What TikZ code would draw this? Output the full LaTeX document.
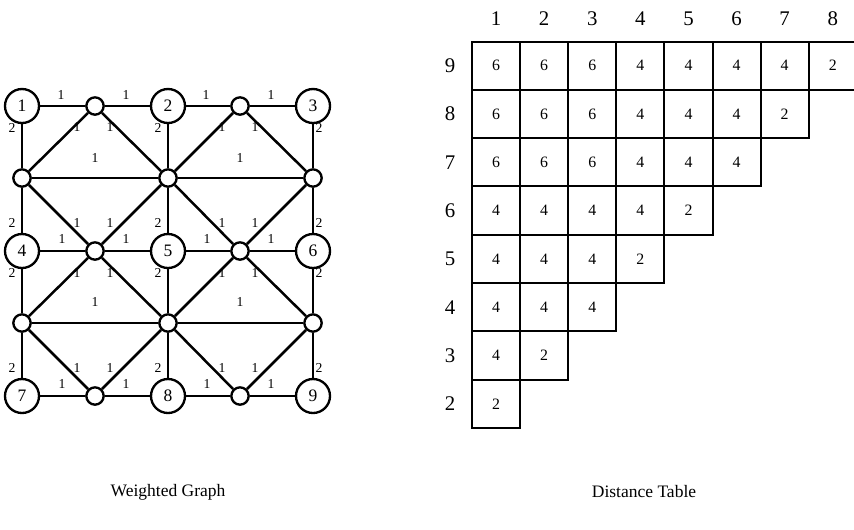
\documentclass[tikz,border=0pt]{standalone}
\usepackage{fontspec}
\setmainfont{Liberation Serif}

\begin{document}
\begin{tikzpicture}[x=0.6pt,y=-0.6pt,
  every node/.style={font=\fontsize{10.5}{12}\selectfont},
  big/.style={circle,draw,line width=1.4pt,minimum size=20.4pt,inner sep=0pt,font=\fontsize{10.5}{12}\selectfont},
  sml/.style={circle,draw,line width=1.4pt,minimum size=10.4pt,inner sep=0pt},
  wt/.style={inner sep=0pt,font=\fontsize{8.2}{9}\selectfont},
  cell/.style={draw,line width=1.2pt,minimum width=28.86pt,minimum height=28.98pt,inner sep=0pt,font=\fontsize{9.5}{10}\selectfont},
  idx/.style={inner sep=0pt,font=\fontsize{12.5}{14}\selectfont}]
\useasboundingbox (0,0) rectangle (854,529);
\clip (0,0) rectangle (854,529);

% weighted graph: numbered vertices
\node[big] (n1) at (22,106) {1}; \node[big] (n2) at (168,106) {2}; \node[big] (n3) at (313,106) {3};
\node[big] (n4) at (22,251) {4}; \node[big] (n5) at (168,251) {5}; \node[big] (n6) at (313,251) {6};
\node[big] (n7) at (22,396) {7}; \node[big] (n8) at (168,396) {8}; \node[big] (n9) at (313,396) {9};
% unnumbered vertices
\node[sml] (t1) at (95,106) {}; \node[sml] (t2) at (240,106) {};
\node[sml] (m1) at (95,251) {}; \node[sml] (m2) at (240,251) {};
\node[sml] (b1) at (95,396) {}; \node[sml] (b2) at (240,396) {};
\node[sml] (p1) at (22,178) {}; \node[sml] (p2) at (168,178) {}; \node[sml] (p3) at (313,178) {};
\node[sml] (q1) at (22,323) {}; \node[sml] (q2) at (168,323) {}; \node[sml] (q3) at (313,323) {};

\begin{scope}[line width=1.5pt]
% horizontal edges
\draw (n1)--(t1) (t1)--(n2) (n2)--(t2) (t2)--(n3);
\draw (n4)--(m1) (m1)--(n5) (n5)--(m2) (m2)--(n6);
\draw (n7)--(b1) (b1)--(n8) (n8)--(b2) (b2)--(n9);
\draw (p1)--(p2) (p2)--(p3);
\draw (q1)--(q2) (q2)--(q3);
% vertical edges
\draw (n1)--(p1) (p1)--(n4) (n4)--(q1) (q1)--(n7);
\draw (n2)--(p2) (p2)--(n5) (n5)--(q2) (q2)--(n8);
\draw (n3)--(p3) (p3)--(n6) (n6)--(q3) (q3)--(n9);
% diagonal edges
\draw (t1)--(p1) (t1)--(p2) (t2)--(p2) (t2)--(p3);
\draw (m1)--(p1) (m1)--(p2) (m1)--(q1) (m1)--(q2);
\draw (m2)--(p2) (m2)--(p3) (m2)--(q2) (m2)--(q3);
\draw (b1)--(q1) (b1)--(q2) (b2)--(q2) (b2)--(q3);
\end{scope}

% weights
\node[wt] (h11) at (61,95) {1}; \node[wt] (h12) at (126,95) {1}; \node[wt] (h13) at (206,95) {1}; \node[wt] (h14) at (271,95) {1};
\node[wt] (h31) at (62,239) {1}; \node[wt] (h32) at (126,239) {1}; \node[wt] (h33) at (207,239) {1}; \node[wt] (h34) at (271,239) {1};
\node[wt] (h51) at (62,384) {1}; \node[wt] (h52) at (126,384) {1}; \node[wt] (h53) at (207,384) {1}; \node[wt] (h54) at (271,384) {1};
\node[wt] (h21) at (95,158) {1}; \node[wt] (h22) at (240,158) {1}; \node[wt] (h41) at (95,302) {1}; \node[wt] (h42) at (240,302) {1};
\node[wt] (d11) at (77,127) {1}; \node[wt] (d12) at (110,127) {1}; \node[wt] (d13) at (222,127) {1}; \node[wt] (d14) at (255,127) {1};
\node[wt] (d21) at (77,223) {1}; \node[wt] (d22) at (110,223) {1}; \node[wt] (d23) at (222,223) {1}; \node[wt] (d24) at (255,223) {1};
\node[wt] (d31) at (77,273) {1}; \node[wt] (d32) at (110,273) {1}; \node[wt] (d33) at (222,273) {1}; \node[wt] (d34) at (255,273) {1};
\node[wt] (d41) at (77,368) {1}; \node[wt] (d42) at (110,368) {1}; \node[wt] (d43) at (222,368) {1}; \node[wt] (d44) at (255,368) {1};
\node[wt] (v11) at (12,128) {2}; \node[wt] (v12) at (12,223) {2}; \node[wt] (v13) at (12,273) {2}; \node[wt] (v14) at (12,368) {2};
\node[wt] (v21) at (158,128) {2}; \node[wt] (v22) at (158,223) {2}; \node[wt] (v23) at (158,273) {2}; \node[wt] (v24) at (158,368) {2};
\node[wt] (v31) at (319,128) {2}; \node[wt] (v32) at (319,223) {2}; \node[wt] (v33) at (319,273) {2}; \node[wt] (v34) at (319,368) {2};

% distance table: indices
\node[idx] (k1) at (496.05,19) {1}; \node[idx] (k2) at (544.15,19) {2}; \node[idx] (k3) at (592.25,19) {3}; \node[idx] (k4) at (640.35,19) {4};
\node[idx] (k5) at (688.45,19) {5}; \node[idx] (k6) at (736.55,19) {6}; \node[idx] (k7) at (784.65,19) {7}; \node[idx] (k8) at (832.75,19) {8};
\node[idx] (r9) at (450,65.65) {9}; \node[idx] (r8) at (450,113.95) {8}; \node[idx] (r7) at (450,162.25) {7}; \node[idx] (r6) at (450,210.55) {6};
\node[idx] (r5) at (450,258.85) {5}; \node[idx] (r4) at (450,307.15) {4}; \node[idx] (r3) at (450,355.45) {3}; \node[idx] (r2) at (450,403.75) {2};
% distance table: cells
\node[cell] (c91) at (496.05,65.65) {6}; \node[cell] (c92) at (544.15,65.65) {6}; \node[cell] (c93) at (592.25,65.65) {6}; \node[cell] (c94) at (640.35,65.65) {4};
\node[cell] (c95) at (688.45,65.65) {4}; \node[cell] (c96) at (736.55,65.65) {4}; \node[cell] (c97) at (784.65,65.65) {4}; \node[cell] (c98) at (832.75,65.65) {2};
\node[cell] (c81) at (496.05,113.95) {6}; \node[cell] (c82) at (544.15,113.95) {6}; \node[cell] (c83) at (592.25,113.95) {6}; \node[cell] (c84) at (640.35,113.95) {4};
\node[cell] (c85) at (688.45,113.95) {4}; \node[cell] (c86) at (736.55,113.95) {4}; \node[cell] (c87) at (784.65,113.95) {2};
\node[cell] (c71) at (496.05,162.25) {6}; \node[cell] (c72) at (544.15,162.25) {6}; \node[cell] (c73) at (592.25,162.25) {6}; \node[cell] (c74) at (640.35,162.25) {4};
\node[cell] (c75) at (688.45,162.25) {4}; \node[cell] (c76) at (736.55,162.25) {4};
\node[cell] (c61) at (496.05,210.55) {4}; \node[cell] (c62) at (544.15,210.55) {4}; \node[cell] (c63) at (592.25,210.55) {4}; \node[cell] (c64) at (640.35,210.55) {4};
\node[cell] (c65) at (688.45,210.55) {2};
\node[cell] (c51) at (496.05,258.85) {4}; \node[cell] (c52) at (544.15,258.85) {4}; \node[cell] (c53) at (592.25,258.85) {4}; \node[cell] (c54) at (640.35,258.85) {2};
\node[cell] (c41) at (496.05,307.15) {4}; \node[cell] (c42) at (544.15,307.15) {4}; \node[cell] (c43) at (592.25,307.15) {4};
\node[cell] (c31) at (496.05,355.45) {4}; \node[cell] (c32) at (544.15,355.45) {2};
\node[cell] (c21) at (496.05,403.75) {2};

% captions
\node (gcap) at (168,492) {Weighted Graph};
\node (tcap) at (644,492) {Distance Table};
\end{tikzpicture}
\end{document}
